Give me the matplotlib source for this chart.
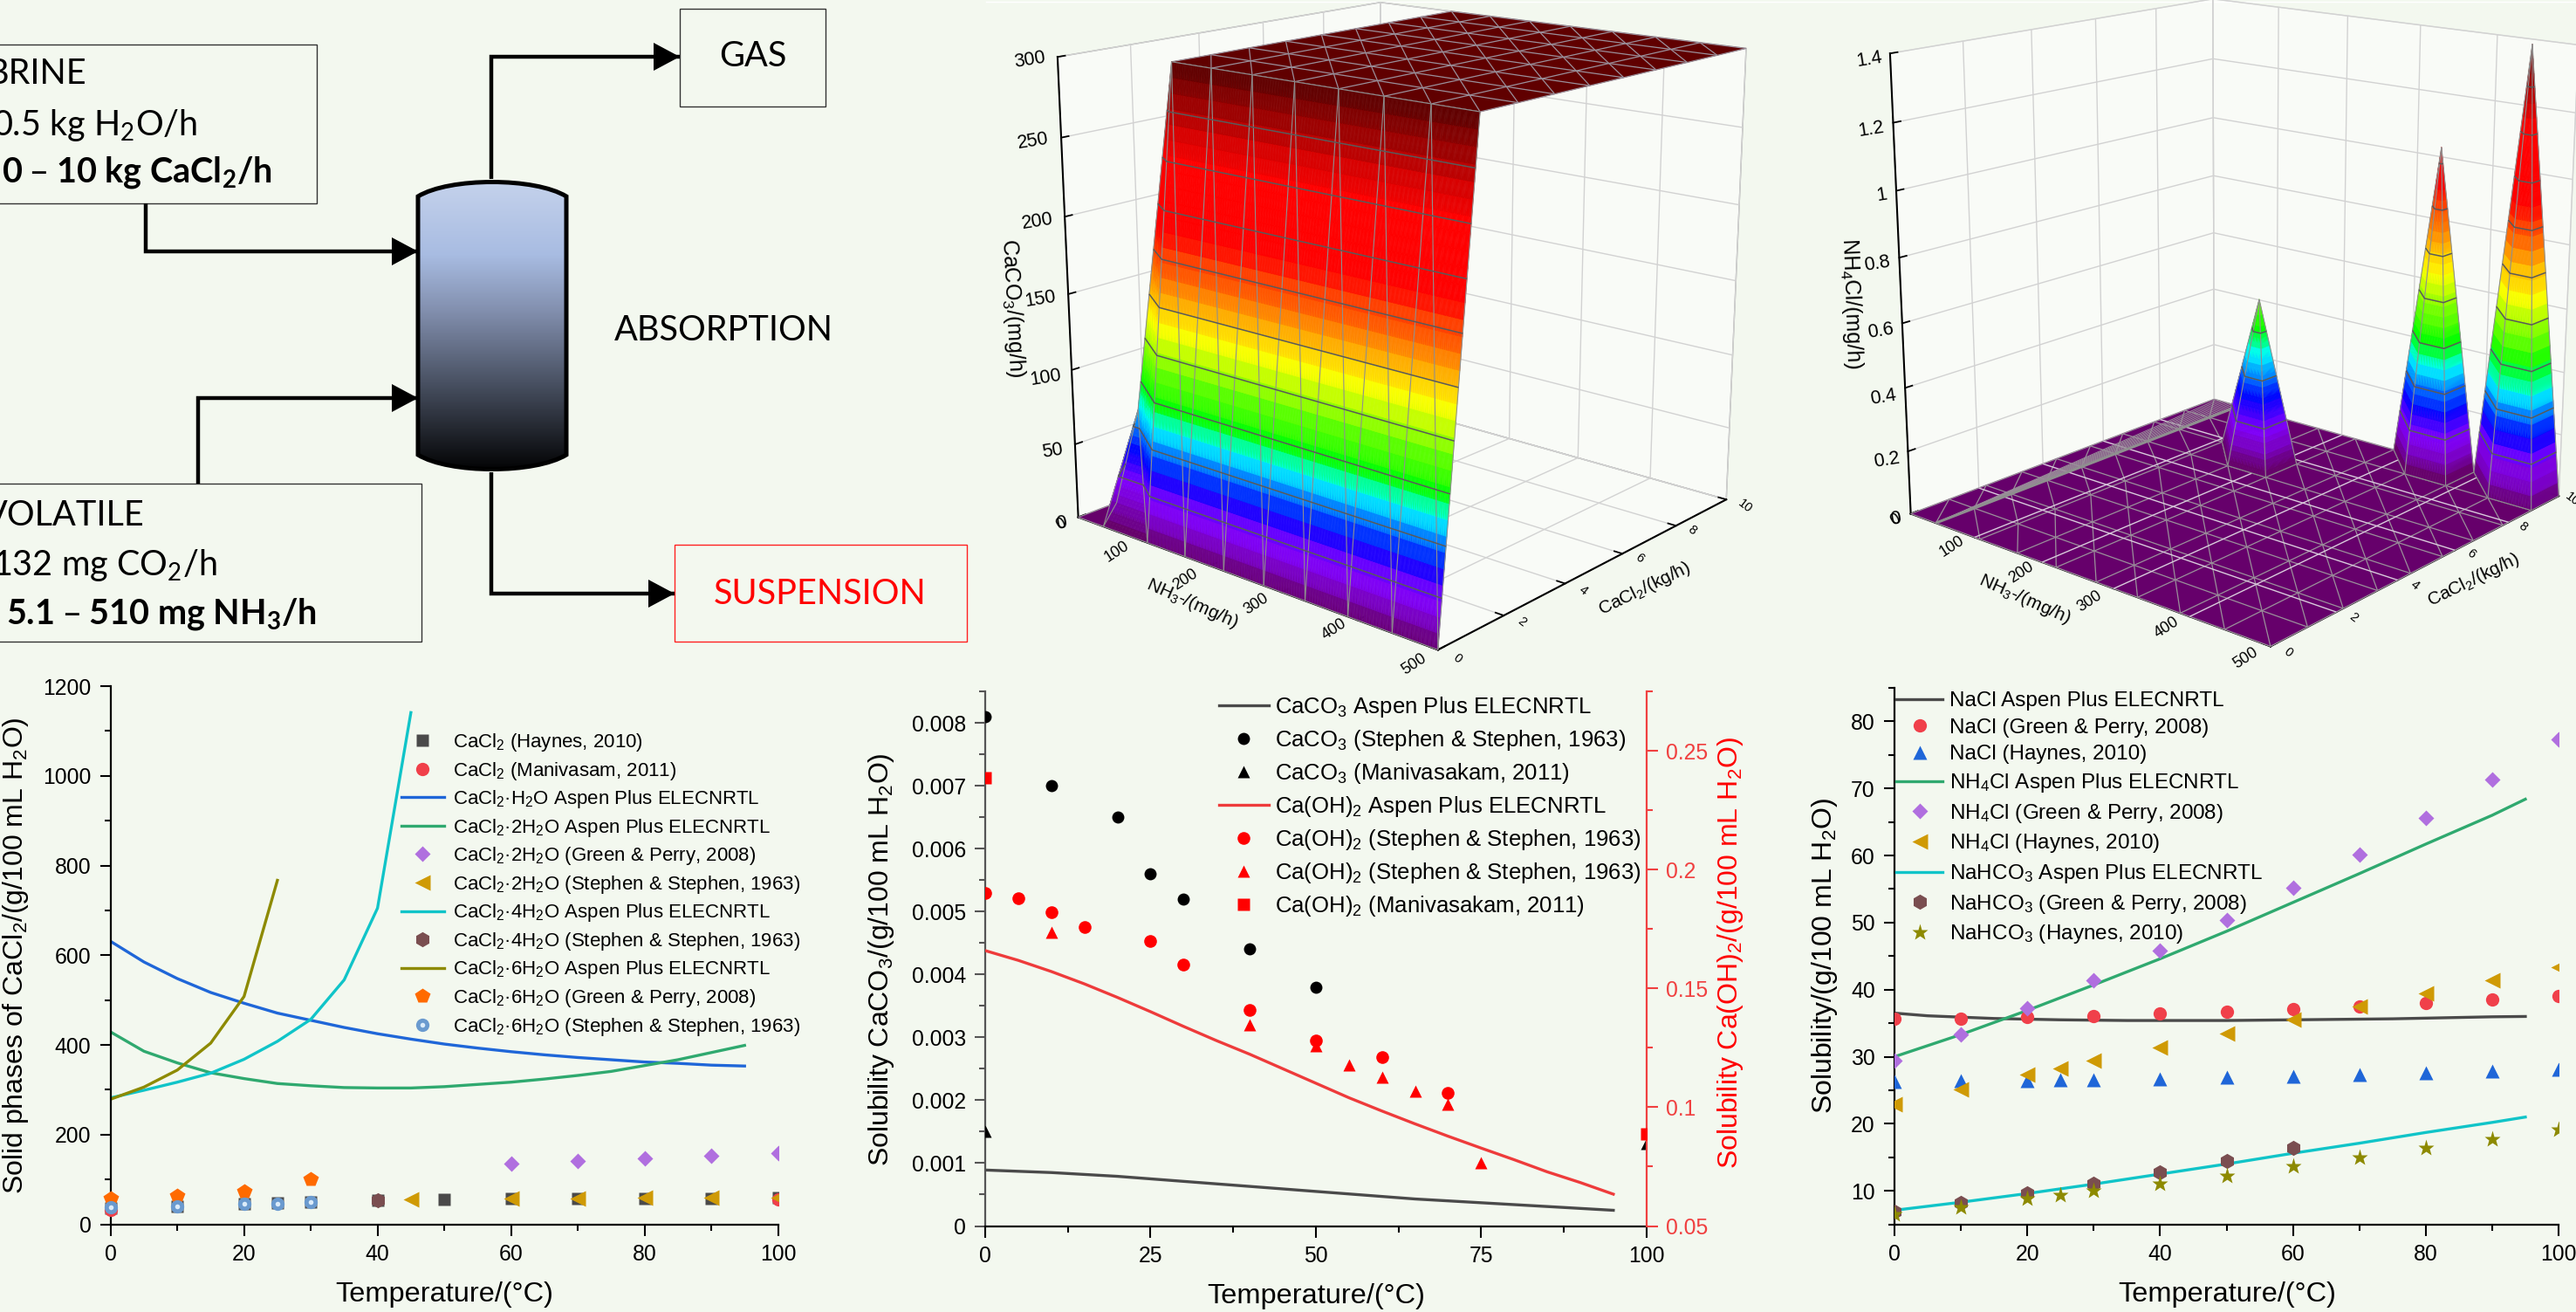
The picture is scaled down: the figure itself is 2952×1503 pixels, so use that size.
import numpy as np
import matplotlib
matplotlib.use("Agg")
import matplotlib.pyplot as plt
from matplotlib.colors import LinearSegmentedColormap
from matplotlib.legend_handler import HandlerTuple
from matplotlib.patches import PathPatch, Polygon, Rectangle
from matplotlib.path import Path
from matplotlib.ticker import FormatStrFormatter, MultipleLocator
from matplotlib.transforms import Bbox, TransformedBbox
from matplotlib.tri import Triangulation
from mpl_toolkits.mplot3d.art3d import Line3DCollection, Poly3DCollection

W, H = 2952, 1503
BG = "#f3f8ef"

# solid phases of CaCl2
T5 = list(range(0, 100, 5))
CACL2_H2O = [631, 585, 548, 517, 493, 471, 455, 439, 425, 413, 402, 393, 385, 378, 372, 367, 362, 359, 355, 353]
CACL2_2H2O = [429, 386, 360, 338, 325, 314, 309, 305, 304, 304, 307, 312, 317, 324, 332, 341, 354, 367, 383, 399]
T_4H2O = [0, 5, 10, 15, 20, 25, 30, 35, 40, 45]
CACL2_4H2O = [282, 299, 317, 337, 368, 408, 457, 545, 705, 1141]
T_6H2O = [0, 5, 10, 15, 20, 25]
CACL2_6H2O = [279, 306, 344, 404, 508, 767]
T_HAYNES = [0, 10, 20, 25, 30, 40, 50, 60, 70, 80, 90, 100]
CACL2_HAYNES = [37, 40, 45, 48, 50, 54, 55, 57, 57, 58, 58, 59]
T_MANI = [0, 100]
CACL2_MANI = [33, 55]
T_GP2 = [60, 70, 80, 90, 100]
CACL2_GP2 = [136, 141, 147, 152, 158]
T_ST2 = [45, 60, 70, 80, 90, 100]
CACL2_ST2 = [56, 57, 58, 59, 60, 60]
T_ST4 = [40]
CACL2_ST4 = [53]
T_GP6 = [0, 10, 20, 30]
CACL2_GP6 = [58, 64, 74, 101]
T_ST6 = [0, 10, 20, 25, 30]
CACL2_ST6 = [39, 41, 45, 46, 50]

# CaCO3 and Ca(OH)2
CACO3_LINE = [.00089, .00087, .00085, .00082, .00079, .00075, .00071, .00067, .00063, .00059,
              .00055, .00051, .00047, .00043, .0004, .00037, .00034, .00031, .00028, .00025]
CAOH_LINE = [.1659, .1618, .1571, .1519, .1462, .1402, .134, .128, .1223, .1162,
             .1101, .104, .0984, .093, .0878, .0828, .0779, .0728, .0683, .0634]
T_CACO3_ST = [0, 10, 20, 25, 30, 40, 50]
CACO3_ST = [.0081, .0070, .0065, .0056, .0052, .0044, .0038]
T_CACO3_MA = [0, 100]
CACO3_MA = [.00151, .00131]
T_CAOH_C = [0, 5, 10, 15, 25, 30, 40, 50, 60, 70]
CAOH_C = [.19, .188, .182, .176, .17, .16, .141, .128, .121, .106]
T_CAOH_T = [10, 40, 50, 55, 60, 65, 70, 75]
CAOH_T = [.1737, .1345, .126, .1176, .1127, .1066, .1014, .0765]
T_CAOH_MA = [0, 100]
CAOH_MA = [.2387, .0888]

# NaCl, NH4Cl, NaHCO3
NACL_LINE = [36.5, 36.1, 35.9, 35.7, 35.6, 35.5, 35.45, 35.4, 35.4, 35.4, 35.4, 35.45, 35.5, 35.55, 35.6, 35.65, 35.75, 35.85, 35.95, 36.0]
T_LINE = [0, 10, 20, 30, 40, 50, 60, 70, 80, 90, 95]
NH4CL_LINE = [30, 33.3, 36.9, 40.7, 44.6, 48.7, 53, 57.3, 61.7, 66, 68.4]
NAHCO3_LINE = [7.1, 8.3, 9.6, 11, 12.5, 14, 15.6, 17.1, 18.7, 20.2, 21]
T_DEC = [0, 10, 20, 30, 40, 50, 60, 70, 80, 90, 100]
NACL_GP = [35.7, 35.7, 35.9, 36.1, 36.4, 36.7, 37.1, 37.5, 38, 38.5, 39.1]
NACL_HA = [26.3, 26.4, 26.4, 26.5, 26.6, 26.7, 26.9, 27.1, 27.3, 27.6, 27.8, 28.1]
NH4CL_GP = [29.4, 33.3, 37.2, 41.4, 45.8, 50.4, 55.2, 60.2, 65.6, 71.3, 77.3]
NH4CL_HA = [22.9, 25.1, 27.3, 28.3, 29.4, 31.4, 33.5, 35.5, 37.5, 39.4, 41.4, 43.3]
T_NAHCO3_GP = [0, 10, 20, 30, 40, 50, 60]
NAHCO3_GP = [6.9, 8.2, 9.6, 11.1, 12.7, 14.4, 16.4]
NAHCO3_HA = [6.5, 7.6, 8.8, 9.4, 10, 11.1, 12.3, 13.7, 15, 16.4, 17.7, 19.1]

# surfaces
NH3_GRID = [0, 40, 108, 164, 220, 276, 332, 388, 444, 500]
CACL_GRID = [0, 1.11, 2.22, 3.33, 4.44, 5.56, 6.67, 7.78, 8.89, 10]
CACO3_FIRST_ROW = [0, 0, 0, 0, 0, 0, 0, 0, 0, 0]
CACO3_OTHER_ROWS = [0, 70, 300, 300, 300, 300, 300, 300, 300, 300]
PEAK_NH3 = [164, 332, 444]
PEAK_CACL = [7.78, 10, 10]
PEAK_Z = [0.52, 1.03, 1.385]
FAN_NH3 = [4, 8, 12, 16, 20, 24, 28, 32, 36]

# camera fitted to the corners of the reference boxes
ELEV, AZIM, FOCAL, BOX_Z, BOX_Y = 15.9097, -49.5259, 0.4969, 0.9939, 0.9883
SCALE, SHIFT_X, SHIFT_Y = 4929.468, 1610.918, 329.189

# tick text of the 3D boxes: label, centre in picture pixels
X_TICKS_3D = ["0", "100", "200", "300", "400", "500"]
Y_TICKS_3D = ["0", "2", "4", "6", "8", "10"]
Z1_TICKS = ["0", "50", "100", "150", "200", "250", "300"]
Z2_TICKS = ["0", "0.2", "0.4", "0.6", "0.8", "1", "1.2", "1.4"]
X1_POS = [(1216, 600), (1280, 632), (1358, 664), (1440, 692), (1529, 721), (1621, 761)]
Y1_POS = [(1670, 754), (1744, 712), (1814, 676), (1879, 639), (1939, 607), (2000, 580)]
Z1_POS = [(1216, 600), (1206, 517), (1198, 433), (1192, 343), (1189, 254), (1184, 162), (1180, 69)]
X2_POS = [(2172, 595), (2237, 626), (2316, 656), (2395, 689), (2483, 719), (2574, 754)]
Y2_POS = [(2622, 747), (2697, 707), (2767, 670), (2832, 634), (2891, 603), (2948, 572)]
Z2_POS = [(2172, 595), (2162, 527), (2158, 455), (2155, 379), (2151, 302), (2156, 224), (2144, 148), (2142, 68)]

RAINBOW = LinearSegmentedColormap.from_list(
    "origin_rainbow",
    [(0, "#66006b"), (0.05, "#7a00c8"), (0.09, "#8000ff"), (0.15, "#0000ff"), (0.25, "#00ffff"),
     (0.30, "#00ff00"), (0.46, "#ffff00"), (0.56, "#ff8000"), (0.66, "#ff0000"), (0.82, "#ff0000"),
     (0.92, "#a80000"), (1, "#600000")],
    N=60,
)


def px_rect(left, top, right, bottom):
    return [left / W, 1 - bottom / H, (right - left) / W, (bottom - top) / H]


def fig_text(fig, x, y, s, **kw):
    kw.setdefault("ha", "center")
    kw.setdefault("va", "center")
    fig.text(x / W, 1 - y / H, s, **kw)


def arrow(ax, pts):
    xs, ys = zip(*pts)
    ax.plot(xs, ys, color="k", lw=3.2, solid_joinstyle="miter", solid_capstyle="butt")
    x, y = pts[-1]
    ax.add_patch(Polygon([(x, y), (x - 30, y - 16), (x - 30, y + 16)], closed=True, color="k", lw=0))


def draw_flowsheet(fig):
    ax = fig.add_axes([0, 0, 1, 1], zorder=0)
    ax.set_xlim(0, W)
    ax.set_ylim(H, 0)
    ax.axis("off")

    for left, top, right, bottom, color in [
        (-20, 51, 363, 233, "#333333"), (-20, 554, 483, 735, "#333333"),
        (779, 10, 946, 122, "#333333"), (773, 624, 1108, 735, "#ff2020"),
    ]:
        ax.add_patch(Rectangle((left, top), right - left, bottom - top, fc="none", ec=color, lw=1.0))

    arrow(ax, [(166.5, 233), (166.5, 288), (479, 288)])
    arrow(ax, [(226.5, 554), (226.5, 456), (479, 456)])
    arrow(ax, [(563, 205), (563, 65), (779, 65)])
    arrow(ax, [(563, 541), (563, 680), (773, 680)])

    # vessel with its dished ends
    verts = [(479, 225), (515, 203), (613, 203), (649, 225), (649, 521), (613, 543), (515, 543), (479, 521), (479, 225)]
    codes = [Path.MOVETO, Path.CURVE4, Path.CURVE4, Path.CURVE4, Path.LINETO, Path.CURVE4, Path.CURVE4, Path.CURVE4, Path.CLOSEPOLY]
    shape = PathPatch(Path(verts, codes), fc="none", ec="k", lw=3.6, zorder=3)
    ax.add_patch(shape)
    cmap = LinearSegmentedColormap.from_list(
        "vessel", [(0, "#c6d3ec"), (0.26, "#a8bce2"), (0.45, "#828fae"), (0.7, "#474f60"), (1, "#000000")])
    img = ax.imshow(np.linspace(0, 1, 256)[:, None], extent=(479, 649, 543, 203), cmap=cmap, aspect="auto", zorder=2)
    img.set_clip_path(shape)
    ax.set_xlim(0, W)
    ax.set_ylim(H, 0)

    flow = dict(family="Lato", fontsize=28.5, va="center")
    ax.text(99, 85, "BRINE", ha="right", **flow)
    ax.text(226, 143, "0.5 kg H$_2$O/h", ha="right", **flow)
    ax.text(312, 198, "0 \u2013 10 kg CaCl$_2$/h", ha="right", weight="bold", **flow)
    ax.text(166, 590, "VOLATILE", ha="right", **flow)
    ax.text(249, 647, "132 mg CO$_2$/h", ha="right", **flow)
    ax.text(363, 703, "5.1 \u2013 510 mg NH$_3$/h", ha="right", weight="bold", **flow)
    ax.text(863, 64, "GAS", ha="center", **flow)
    ax.text(829, 378, "ABSORPTION", ha="center", **flow)
    ax.text(940, 681, "SUSPENSION", ha="center", color="#ff0000", **flow)
    ax.plot([1130, W], [2, 2], color="white", lw=1)


def style_2d(ax, xmajor, xminor, ymajor, yminor, color="k"):
    for side in ["top", "right"]:
        ax.spines[side].set_visible(False)
    for side in ["left", "bottom"]:
        ax.spines[side].set_linewidth(1.6)
    ax.spines["left"].set_color(color)
    ax.patch.set_visible(False)
    ax.xaxis.set_major_locator(MultipleLocator(xmajor))
    ax.xaxis.set_minor_locator(MultipleLocator(xminor))
    ax.yaxis.set_major_locator(MultipleLocator(ymajor))
    ax.yaxis.set_minor_locator(MultipleLocator(yminor))
    ax.tick_params(which="major", length=9, width=1.5, labelsize=17.8, pad=7)
    ax.tick_params(which="minor", length=5, width=1.5)
    ax.tick_params(axis="y", which="both", color=color)
    ax.xaxis.set_major_formatter(FormatStrFormatter("%g"))
    ax.yaxis.set_major_formatter(FormatStrFormatter("%g"))


def dots(ax, x, y, marker, color, size=11):
    return ax.plot(x, y, ls="none", marker=marker, ms=size, mfc=color, mec="none", zorder=3)[0]


def add_legend(ax, handles, labels, left, top, rowgap, size, textpad=0.3):
    ax.legend(handles, labels, loc="upper left", bbox_to_anchor=(left / W, 1 - top / H),
              bbox_transform=ax.figure.transFigure, frameon=False, fontsize=size,
              borderpad=0, borderaxespad=0, handlelength=2.2, handletextpad=textpad,
              labelspacing=rowgap, numpoints=1, handler_map={tuple: HandlerTuple(ndivide=1, pad=0)})


def draw_cacl2(fig):
    ax = fig.add_axes(px_rect(126.7, 786, 891.5, 1402.6))
    style_2d(ax, 20, 10, 200, 100)
    ax.set_xlim(0, 100)
    ax.set_ylim(0, 1200)
    marks = [
        dots(ax, T_HAYNES, CACL2_HAYNES, "s", "#4a4a4a", 10.5),
        dots(ax, T_MANI, CACL2_MANI, "o", "#f0404a"),
        dots(ax, T_GP2, CACL2_GP2, "D", "#b06fdf", 9.5),
        dots(ax, T_ST2, CACL2_ST2, "<", "#cf9a05", 12.5),
        dots(ax, T_ST4, CACL2_ST4, "h", "#7a4e50", 12.5),
        dots(ax, T_GP6, CACL2_GP6, "p", "#ff6a00", 13),
        dots(ax, T_ST6, CACL2_ST6, "o", "#6a9acf"),
    ]
    shine = dots(ax, T_ST6, CACL2_ST6, "o", "#dcecfa", 4)
    clip = TransformedBbox(Bbox([[-0.03, 0], [1, 1.02]]), ax.transAxes)
    for mark in marks + [shine]:
        mark.set_clip_box(clip)
    line_h = ax.plot(T5, CACL2_H2O, color="#1f66d8", lw=2.4)[0]
    line_2 = ax.plot(T5, CACL2_2H2O, color="#2fa96f", lw=2.4)[0]
    line_4 = ax.plot(T_4H2O, CACL2_4H2O, color="#10c4c8", lw=2.4)[0]
    line_6 = ax.plot(T_6H2O, CACL2_6H2O, color="#8d8a00", lw=2.4)[0]
    handles = [marks[0], marks[1], line_h, line_2, marks[2], marks[3], line_4, marks[4], line_6, marks[5], (marks[6], shine)]
    labels = [
        "CaCl$_2$ (Haynes, 2010)", "CaCl$_2$ (Manivasam, 2011)", "CaCl$_2$\u00b7H$_2$O Aspen Plus ELECNRTL",
        "CaCl$_2$\u00b72H$_2$O Aspen Plus ELECNRTL", "CaCl$_2$\u00b72H$_2$O (Green & Perry, 2008)",
        "CaCl$_2$\u00b72H$_2$O (Stephen & Stephen, 1963)", "CaCl$_2$\u00b74H$_2$O Aspen Plus ELECNRTL",
        "CaCl$_2$\u00b74H$_2$O (Stephen & Stephen, 1963)", "CaCl$_2$\u00b76H$_2$O Aspen Plus ELECNRTL",
        "CaCl$_2$\u00b76H$_2$O (Green & Perry, 2008)", "CaCl$_2$\u00b76H$_2$O (Stephen & Stephen, 1963)",
    ]
    add_legend(ax, handles, labels, 460, 838, 0.34, 16, textpad=0.47)
    fig_text(fig, 509, 1483, "Temperature/(\u00b0C)", fontsize=23.4)
    fig_text(fig, 18, 1095, "Solid phases of CaCl$_2$/(g/100 mL H$_2$O)", fontsize=23, rotation=90)


def draw_caco3(fig):
    ax = fig.add_axes(px_rect(1129, 792, 1886.7, 1404.5))
    style_2d(ax, 25, 12.5, 0.001, 0.0005, color="#555555")
    ax.set_xlim(0, 100)
    ax.set_ylim(0, 0.0085)
    red_ax = ax.twinx()
    red_ax.set_xlim(0, 100)
    red_ax.set_ylim(0.05, 0.275)
    red_ax.patch.set_visible(False)
    for side in ["top", "left", "bottom"]:
        red_ax.spines[side].set_visible(False)
    red_ax.spines["right"].set_color("#f04040")
    red_ax.spines["right"].set_linewidth(1.6)
    red_ax.yaxis.set_major_locator(MultipleLocator(0.05))
    red_ax.yaxis.set_minor_locator(MultipleLocator(0.025))
    red_ax.yaxis.set_major_formatter(FormatStrFormatter("%g"))
    red_ax.tick_params(axis="y", which="major", length=9, width=1.5, labelsize=17.8, pad=7, color="#f04040", labelcolor="#f04040")
    red_ax.tick_params(axis="y", which="minor", length=5, width=1.5, color="#f04040")

    line_black = ax.plot(T5, CACO3_LINE, color="#4a4a4a", lw=2.4)[0]
    c_black = dots(ax, T_CACO3_ST, CACO3_ST, "o", "k", 10)
    t_black = dots(ax, T_CACO3_MA, CACO3_MA, "^", "k", 10)
    line_red = red_ax.plot(T5, CAOH_LINE, color="#ee3b3b", lw=2.4)[0]
    c_red = dots(red_ax, T_CAOH_C, CAOH_C, "o", "#ff0000", 10.5)
    t_red = dots(red_ax, T_CAOH_T, CAOH_T, "^", "#ff0000", 10.5)
    s_red = dots(red_ax, T_CAOH_MA, CAOH_MA, "s", "#ff0000", 9.5)
    handles = [line_black, c_black, t_black, line_red, c_red, t_red, s_red]
    labels = [
        "CaCO$_3$ Aspen Plus ELECNRTL", "CaCO$_3$ (Stephen & Stephen, 1963)", "CaCO$_3$ (Manivasakam, 2011)",
        "Ca(OH)$_2$ Aspen Plus ELECNRTL", "Ca(OH)$_2$ (Stephen & Stephen, 1963)",
        "Ca(OH)$_2$ (Stephen & Stephen, 1963)", "Ca(OH)$_2$ (Manivasakam, 2011)",
    ]
    add_legend(red_ax, handles, labels, 1397, 796, 0.39, 18.5)
    fig_text(fig, 1508, 1485, "Temperature/(\u00b0C)", fontsize=23.4)
    fig_text(fig, 1010, 1099, "Solubility CaCO$_3$/(g/100 mL H$_2$O)", fontsize=23, rotation=90)
    fig_text(fig, 1983, 1092, "Solubility Ca(OH)$_2$/(g/100 mL H$_2$O)", fontsize=23, rotation=90, color="#ff0000")


def draw_salts(fig):
    ax = fig.add_axes(px_rect(2171, 788, 2932, 1402.6))
    style_2d(ax, 20, 10, 10, 5)
    ax.set_xlim(0, 100)
    ax.set_ylim(5, 85)
    line_n = ax.plot(T5, NACL_LINE, color="#4a4a4a", lw=2.4)[0]
    line_a = ax.plot(T_LINE, NH4CL_LINE, color="#2fa96f", lw=2.4)[0]
    line_b = ax.plot(T_LINE, NAHCO3_LINE, color="#10c4c8", lw=2.4)[0]
    n_gp = dots(ax, T_DEC, NACL_GP, "o", "#f0404a")
    n_ha = dots(ax, T_HAYNES, NACL_HA, "^", "#1f66d8", 12)
    a_gp = dots(ax, T_DEC, NH4CL_GP, "D", "#b06fdf", 9.5)
    a_ha = dots(ax, T_HAYNES, NH4CL_HA, "<", "#cf9a05", 12.5)
    b_gp = dots(ax, T_NAHCO3_GP, NAHCO3_GP, "h", "#7a4e50", 12.5)
    b_ha = dots(ax, T_HAYNES, NAHCO3_HA, "*", "#8d8a00", 14)
    handles = [line_n, n_gp, n_ha, line_a, a_gp, a_ha, line_b, b_gp, b_ha]
    labels = [
        "NaCl Aspen Plus ELECNRTL", "NaCl (Green & Perry, 2008)", "NaCl (Haynes, 2010)",
        "NH$_4$Cl Aspen Plus ELECNRTL", "NH$_4$Cl (Green & Perry, 2008)", "NH$_4$Cl (Haynes, 2010)",
        "NaHCO$_3$ Aspen Plus ELECNRTL", "NaHCO$_3$ (Green & Perry, 2008)", "NaHCO$_3$ (Haynes, 2010)",
    ]
    add_legend(ax, handles, labels, 2173, 792, 0.357, 17.5)
    fig_text(fig, 2552, 1483, "Temperature/(\u00b0C)", fontsize=23.4)
    fig_text(fig, 2091, 1095, "Solubility/(g/100 mL H$_2$O)", fontsize=23, rotation=90)


def split_triangle(a, b, c, n):
    out = []
    for i in range(n):
        for j in range(n - i):
            p0 = a + (b - a) * i / n + (c - a) * j / n
            p1 = a + (b - a) * (i + 1) / n + (c - a) * j / n
            p2 = a + (b - a) * i / n + (c - a) * (j + 1) / n
            out.append([p0, p1, p2])
            if j < n - i - 1:
                p3 = a + (b - a) * (i + 1) / n + (c - a) * (j + 1) / n
                out.append([p1, p3, p2])
    return out


def draw_surface(ax, x, y, z, zmax, levels):
    nx, ny = len(x), len(y)
    X, Y = np.meshgrid(x, y)
    pts = np.column_stack([X.ravel(), Y.ravel(), z.ravel()])
    tris = []
    for j in range(ny - 1):
        for i in range(nx - 1):
            n0 = j * nx + i
            tris.append([n0, n0 + 1, n0 + nx])
            tris.append([n0 + 1, n0 + nx + 1, n0 + nx])
    tris = np.array(tris)

    scale = np.array([1 / max(x), BOX_Y / max(y), BOX_Z / zmax])
    scaled = pts * scale
    normal = np.cross(scaled[tris[:, 1]] - scaled[tris[:, 0]], scaled[tris[:, 2]] - scaled[tris[:, 0]])
    el, az = np.radians(ELEV), np.radians(AZIM)
    to_eye = np.array([np.cos(el) * np.cos(az), np.cos(el) * np.sin(az), np.sin(el)])
    facing = normal @ to_eye > 0
    flat = np.ptp(pts[tris, 2], axis=1) == 0

    flat_polys = [pts[t] for t in tris[flat]]
    flat_colors = [RAINBOW(pts[t, 2].mean() / zmax) for t in tris[flat]]
    ax.add_collection3d(Poly3DCollection(flat_polys, facecolors=flat_colors, edgecolors=flat_colors, linewidths=0.3, zorder=1))

    def edges(subset):
        pairs = set()
        for t in subset:
            for a, b in [(t[0], t[1]), (t[1], t[2]), (t[2], t[0])]:
                pairs.add((min(a, b), max(a, b)))
        return [[pts[a], pts[b]] for a, b in sorted(pairs)]

    ax.add_collection3d(Line3DCollection(edges(tris[flat]), colors="#9a8f9a", linewidths=0.9, zorder=1.5))

    steep = tris[facing & ~flat]
    polys = []
    for t in steep:
        polys.extend(split_triangle(pts[t[0]], pts[t[1]], pts[t[2]], 32))
    polys = np.array(polys)
    colors = RAINBOW(polys[:, :, 2].mean(axis=1) / zmax)
    ax.add_collection3d(Poly3DCollection(polys, facecolors=colors, edgecolors=colors, linewidths=0.4, zorder=2))
    ax.add_collection3d(Line3DCollection(edges(steep), colors="#8f8f8f", linewidths=0.8, zorder=3))

    cs = ax.tricontour(Triangulation(pts[:, 0], pts[:, 1], triangles=steep), pts[:, 2], levels=levels,
                       colors="#5a5a5a", linewidths=1.1)
    cs.set_zorder(4)


def draw_floor_lines(ax):
    grid = [[(v, 0, 0), (v, 10, 0)] for v in [100, 200, 300, 400]]
    grid += [[(0, v, 0), (500, v, 0)] for v in [2, 4, 6, 8]]
    ax.add_collection3d(Line3DCollection(grid, colors="#d9ccdc", linewidths=1.0, zorder=1.6))
    fan = [[(40, 0, 0), (v, 10, 0)] for v in FAN_NH3]
    ax.add_collection3d(Line3DCollection(fan, colors="#9a8f9a", linewidths=0.7, zorder=1.7))
    ax.add_collection3d(Line3DCollection([[(40, 0, 0), (40, 10, 0)]], colors="#8f8f8f", linewidths=2.2, zorder=1.8))


def limits_3d(ax, zmax):
    ax.set_xlim(0, 500, view_margin=0)
    ax.set_ylim(0, 10, view_margin=0)
    ax.set_zlim(0, zmax, view_margin=0)


def setup_3d(fig, dx, dy, zticks, zmax, pane_edge):
    ax = fig.add_axes([0, 0, 1, 1], projection="3d", computed_zorder=False, zorder=1)
    limits_3d(ax, zmax)
    ax.view_init(ELEV, AZIM)
    ax.set_proj_type("persp", focal_length=FOCAL)
    ax.set_box_aspect((1, BOX_Y, BOX_Z))
    vx0, vx1 = ax.viewLim.intervalx
    vy0, vy1 = ax.viewLim.intervaly
    left = SHIFT_X + dx + SCALE * vx0
    right = SHIFT_X + dx + SCALE * vx1
    bottom = SHIFT_Y + dy - SCALE * vy0
    top = SHIFT_Y + dy - SCALE * vy1
    ax.set_position(px_rect(left, top, right, bottom))
    ax.patch.set_visible(False)
    ax.set_xticks([0, 100, 200, 300, 400, 500])
    ax.set_yticks([0, 2, 4, 6, 8, 10])
    ax.set_zticks(zticks)
    ax.set_xticklabels([])
    ax.set_yticklabels([])
    ax.set_zticklabels([])
    for axis in (ax.xaxis, ax.yaxis, ax.zaxis):
        axis.pane.set_facecolor((1, 1, 1, 0))
        axis.pane.set_edgecolor(pane_edge)
        axis.pane.set_linewidth(1)
        axis.line.set_color("k")
        axis.line.set_linewidth(1.5)
        axis._axinfo["grid"].update(color="#d2d2d2", linewidth=1)
        axis._axinfo["tick"].update(inward_factor=0, outward_factor=0.25, linewidth={True: 1.3, False: 1})
    return ax


def tick_texts(fig, labels, positions, size, rotation):
    for label, (x, y) in zip(labels, positions):
        fig_text(fig, x, y, label, fontsize=size, rotation=rotation, rotation_mode="anchor")


def main():
    plt.rcParams["font.family"] = ["Liberation Sans", "DejaVu Sans"]
    plt.rcParams["mathtext.default"] = "regular"
    fig = plt.figure(figsize=(W / 100, H / 100), dpi=100, facecolor=BG)

    draw_flowsheet(fig)
    draw_cacl2(fig)
    draw_caco3(fig)
    draw_salts(fig)

    ax1 = setup_3d(fig, 0, 0, [0, 50, 100, 150, 200, 250, 300], 300, "#555555")
    ax1.zaxis.set_ticks_position("lower")
    z1 = np.array([CACO3_FIRST_ROW] + [CACO3_OTHER_ROWS] * (len(CACL_GRID) - 1), dtype=float)
    draw_surface(ax1, NH3_GRID, CACL_GRID, z1, 300, list(range(30, 300, 30)))
    limits_3d(ax1, 300)
    tick_texts(fig, X_TICKS_3D, X1_POS, 13, 33)
    tick_texts(fig, Y_TICKS_3D, Y1_POS, 10.5, -38)
    tick_texts(fig, Z1_TICKS, Z1_POS, 15.5, 9)
    fig_text(fig, 1160, 353, "CaCO$_3$/(mg/h)", fontsize=18, rotation=-87)
    fig_text(fig, 1366, 691, "NH$_3$-/(mg/h)", fontsize=15, rotation=-24)
    fig_text(fig, 1885, 674, "CaCl$_2$/(kg/h)", fontsize=15, rotation=26)

    ax2 = setup_3d(fig, 954, -4, [0, .2, .4, .6, .8, 1, 1.2, 1.4], 1.4, "#c8c8c8")
    ax2.zaxis.set_ticks_position("lower")
    z2 = np.zeros((len(CACL_GRID), len(NH3_GRID)))
    for nh3, cacl, peak in zip(PEAK_NH3, PEAK_CACL, PEAK_Z):
        z2[CACL_GRID.index(cacl), NH3_GRID.index(nh3)] = peak
    draw_surface(ax2, NH3_GRID, CACL_GRID, z2, 1.4, [round(0.14 * k, 2) for k in range(1, 10)])
    draw_floor_lines(ax2)
    limits_3d(ax2, 1.4)
    tick_texts(fig, X_TICKS_3D, X2_POS, 13, 33)
    tick_texts(fig, Y_TICKS_3D, Y2_POS, 10.5, -38)
    tick_texts(fig, Z2_TICKS, Z2_POS, 15.5, 9)
    fig_text(fig, 2122, 348, "NH$_4$Cl/(mg/h)", fontsize=18, rotation=-88)
    fig_text(fig, 2320, 686, "NH$_3$-/(mg/h)", fontsize=15, rotation=-24)
    fig_text(fig, 2835, 664, "CaCl$_2$/(kg/h)", fontsize=15, rotation=26)

    fig.savefig("out.png", dpi=100, facecolor=BG)


if __name__ == "__main__":
    main()
